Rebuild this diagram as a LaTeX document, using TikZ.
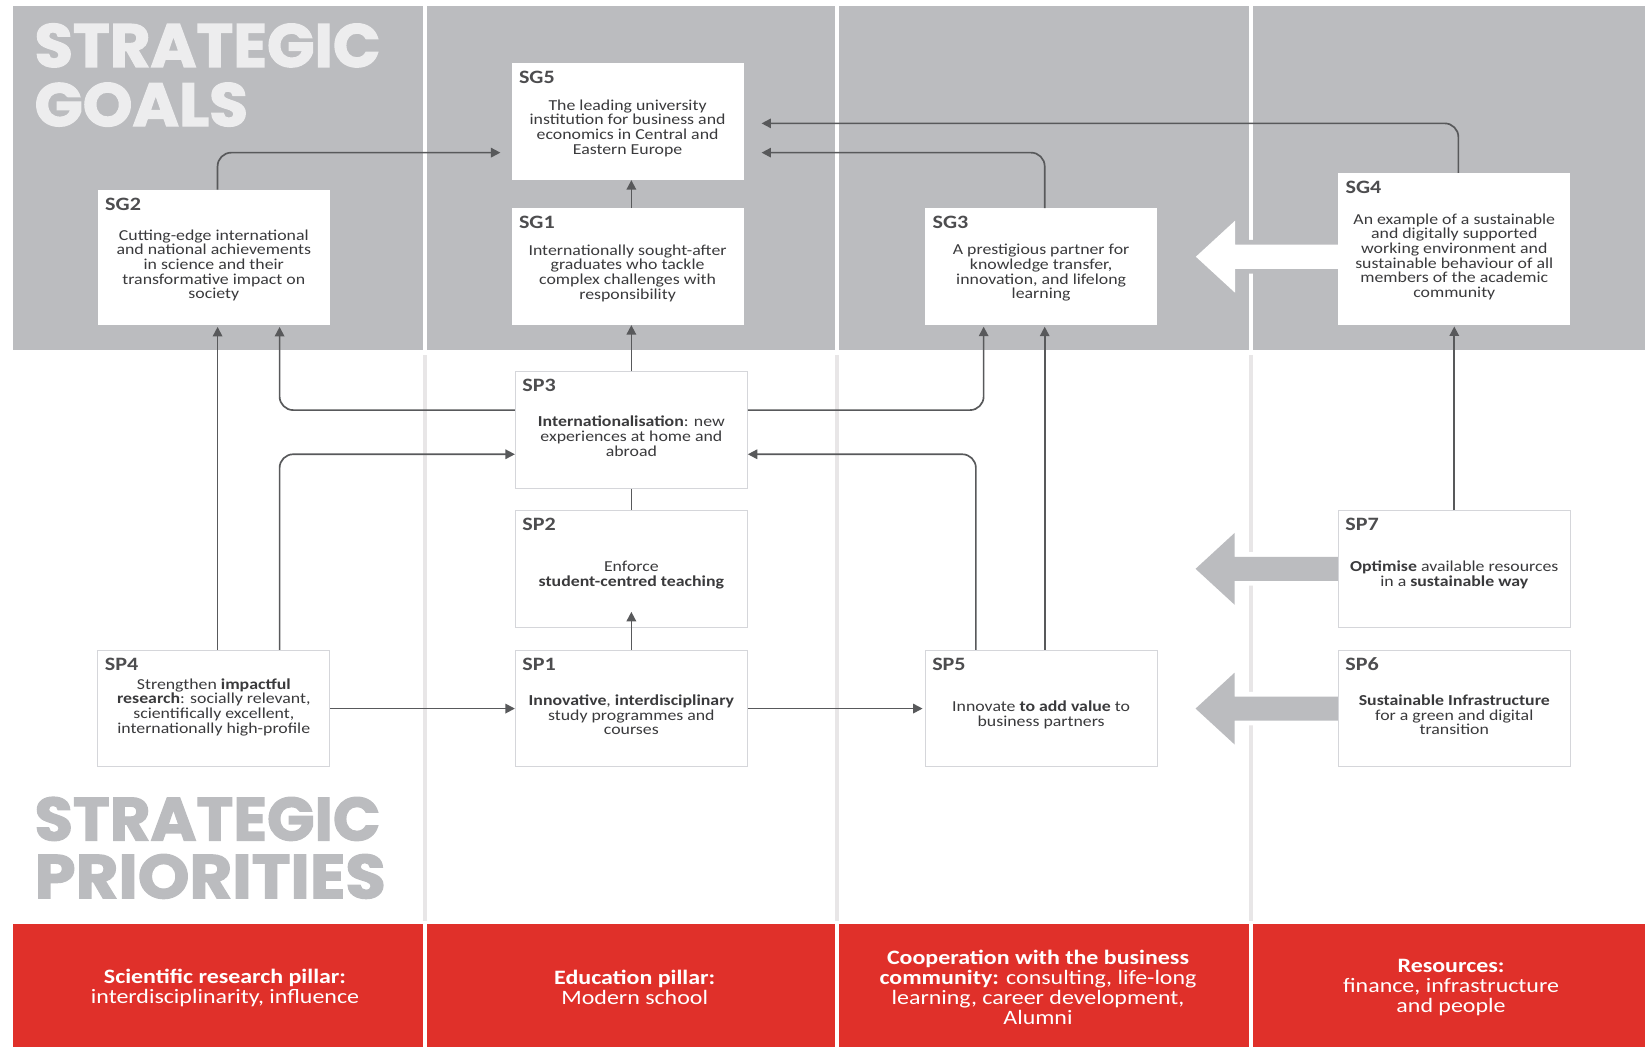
\documentclass[tikz,border=0pt]{standalone}
\usepackage{fontspec}
\setmainfont{Carlito}[FakeStretch=1.17]
\newfontfamily\titlefont{Poppins}[BoldFeatures={FakeBold=2}]
\usetikzlibrary{arrows.meta,calc}
\pgfdeclarelayer{bg}
\pgfsetlayers{bg,main}
\definecolor{bandgray}{HTML}{BBBCBF}
\definecolor{sepgray}{HTML}{E8E6E7}
\definecolor{redband}{HTML}{E0302A}
\definecolor{linegray}{HTML}{58595B}
\definecolor{txt}{HTML}{3A3A3C}
\definecolor{labgray}{HTML}{4D4D4F}
\definecolor{boxedge}{HTML}{D5D6DA}
\definecolor{titlelight}{HTML}{EDEDEE}
\begin{document}
\begin{tikzpicture}[x=1pt,y=-1pt,
  sgbox/.style={fill=white,draw=none,minimum width=221pt,minimum height=111pt,inner sep=0pt},
  spbox/.style={fill=white,draw=boxedge,line width=1pt,minimum width=221pt,minimum height=111pt,inner sep=0pt},
  lab/.style={font=\fontsize{18}{18}\selectfont\bfseries,text=labgray,anchor=north west,inner sep=0pt},
  bodytext/.style={font=\fontsize{14.5}{14}\selectfont,text=txt,align=center,inner sep=0pt},
  redtext/.style={font=\fontsize{19.5}{19}\selectfont,text=white,align=center,inner sep=0pt},
  conn/.style={draw=linegray,line width=1.6pt,rounded corners=13pt},
  arr/.style={conn,-{Triangle[length=9pt,width=9pt]}},
  bigarrow/.style={fill=bandgray,preaction={draw=white,line width=9pt}},
  whitearrow/.style={fill=white,preaction={draw=bandgray,line width=9pt}}
]
\useasboundingbox (0,0) rectangle (1568,998);

% ---------- boxes ----------
\node[sgbox] (sg5) at (598.2,116) {};
\node[sgbox,minimum height=129pt] (sg2) at (203.8,245.4) {};
\node[sgbox] (sg1) at (598.2,254.2) {};
\node[sgbox] (sg3) at (992.4,254.2) {};
\node[sgbox,minimum height=144.4pt] (sg4) at (1386.2,237.3) {};
\node[spbox] (sp3) at (601.8,409.9) {};
\node[spbox] (sp2) at (601.8,542.2) {};
\node[spbox] (sp1) at (601.8,675.4) {};
\node[spbox] (sp4) at (203.8,675.4) {};
\node[spbox] (sp5) at (992.4,675.4) {};
\node[spbox] (sp7) at (1386.2,542.2) {};
\node[spbox] (sp6) at (1386.2,675.4) {};

% ---------- labels ----------
\foreach \n/\t in {sg5/SG5,sg2/SG2,sg1/SG1,sg3/SG3,sg4/SG4,sp3/SP3,sp2/SP2,sp1/SP1,sp4/SP4,sp5/SP5,sp7/SP7,sp6/SP6}
  \node[lab] (\n-lab) at ([xshift=7pt,yshift=-7.5pt]\n.north west) {\t};

% ---------- texts ----------
\node[bodytext] (sg5-txt) at ([yshift=-6pt]sg5.center) {The leading university\\institution for business and\\economics in Central and\\Eastern Europe};
\node[bodytext] (sg2-txt) at ([yshift=-7.5pt]sg2.center) {Cutting-edge international\\and national achievements\\in science and their\\transformative impact on\\society};
\node[bodytext] (sg1-txt) at ([yshift=-6pt]sg1.center) {Internationally sought-after\\graduates who tackle\\complex challenges with\\responsibility};
\node[bodytext] (sg3-txt) at ([yshift=-6pt]sg3.center) {A prestigious partner for\\knowledge transfer,\\innovation, and lifelong\\learning};
\node[bodytext] (sg4-txt) at ([yshift=-7.5pt]sg4.center) {An example of a sustainable\\and digitally supported\\working environment and\\sustainable behaviour of all\\members of the academic\\community};
\node[bodytext] (sp3-txt) at ([yshift=-6pt]sp3.center) {\textbf{Internationalisation}: new\\experiences at home and\\abroad};
\node[bodytext] (sp2-txt) at ([yshift=-6pt]sp2.center) {Enforce\\\textbf{student-centred teaching}};
\node[bodytext] (sp1-txt) at ([yshift=-6pt]sp1.center) {\textbf{Innovative}, \textbf{interdisciplinary}\\study programmes and\\courses};
\node[bodytext] (sp4-txt) at ([yshift=1.5pt]sp4.center) {Strengthen \textbf{impactful}\\\textbf{research}: socially relevant,\\scientifically excellent,\\internationally high-profile};
\node[bodytext] (sp5-txt) at ([yshift=-6pt]sp5.center) {Innovate \textbf{to add value} to\\business partners};
\node[bodytext] (sp7-txt) at ([yshift=-6pt]sp7.center) {\textbf{Optimise} available resources\\in a \textbf{sustainable way}};
\node[bodytext] (sp6-txt) at ([yshift=-6pt]sp6.center) {\textbf{Sustainable Infrastructure}\\for a green and digital\\transition};

% ---------- background layer ----------
\begin{pgfonlayer}{bg}
  \fill[bandgray] (12.6,5.7) rectangle (402.9,333.7);
  \fill[bandgray] (406.8,5.7) rectangle (796.1,333.7);
  \fill[bandgray] (800.1,5.7) rectangle (1190.3,333.7);
  \fill[bandgray] (1194.3,5.7) rectangle (1568,333.7);
  \fill[redband] (12.6,880.8) rectangle (402.9,998);
  \fill[redband] (406.8,880.8) rectangle (796.1,998);
  \fill[redband] (800.1,880.8) rectangle (1190.3,998);
  \fill[redband] (1194.3,880.8) rectangle (1568,998);
  \foreach \x in {404.9,798.1,1192.3}
    \draw[sepgray,line width=3.6pt] (\x,338.5) -- (\x,878);
  % big arrows
  \fill[whitearrow] ([yshift=-7.4pt]sg4.west) ++(5,-11.5) -- ++(-103.3,0) -- ++(0,-22.8) -- ++(-37.3,34.3) -- ++(37.3,34.3) -- ++(0,-22.8) -- ++(103.3,0) -- cycle;
  \fill[bigarrow] (sp7.west) ++(5,-11.5) -- ++(-103.3,0) -- ++(0,-22.8) -- ++(-37.3,34.3) -- ++(37.3,34.3) -- ++(0,-22.8) -- ++(103.3,0) -- cycle;
  \fill[bigarrow] (sp6.west) ++(5,-11.5) -- ++(-103.3,0) -- ++(0,-22.8) -- ++(-37.3,34.3) -- ++(37.3,34.3) -- ++(0,-22.8) -- ++(103.3,0) -- cycle;
\end{pgfonlayer}

% ---------- titles ----------
\node[anchor=north west,inner sep=0pt,text=titlelight] (t1) at (32.8,22.2) {\resizebox{329.5pt}{41.4pt}{\titlefont\bfseries STRATEGIC}};
\node[anchor=north west,inner sep=0pt,text=titlelight] (t2) at (32.8,78.6) {\resizebox{203.4pt}{41.4pt}{\titlefont\bfseries GOALS}};
\node[anchor=north west,inner sep=0pt,text=bandgray] (t3) at (32.8,759.5) {\resizebox{329.5pt}{41.4pt}{\titlefont\bfseries STRATEGIC}};
\node[anchor=north west,inner sep=0pt,text=bandgray] (t4) at (32.8,814) {\resizebox{334.6pt}{42pt}{\titlefont\bfseries PRIORITIES}};

% ---------- pillar texts ----------
\node[redtext] (p1) at (214.5,941.5) {\textbf{Scientific research pillar:}\\interdisciplinarity, influence};
\node[redtext] (p2) at (605,941.5) {\textbf{Education pillar:}\\Modern school};
\node[redtext] (p3) at (989.4,941.5) {\textbf{Cooperation with the business}\\\textbf{community:} consulting, life-long\\learning, career development,\\Alumni};
\node[redtext] (p4) at (1383.1,941.5) {\textbf{Resources:}\\finance, infrastructure\\and people};

% ---------- connectors ----------
\draw[arr] ([xshift=3.6pt]sg2.north) |- ([xshift=-10.5pt,yshift=-29.5pt]sg5.west);
\draw[arr] ([xshift=3.4pt]sg3.north) |- ([xshift=17pt,yshift=-29.5pt]sg5.east);
\draw[arr] ([xshift=3.9pt]sg4.north) |- ([xshift=17pt,yshift=-1.6pt]sg5.east);
\draw[arr] (sg1.north -| sp3.north) -- (sg5.south -| sp3.north);
\draw[arr] (sp3.north) -- (sp3.north |- sg1.south);
\draw[conn] (sp3.south) -- (sp2.north);
\draw[arr] (sp1.north) -- ([yshift=15pt]sp2.south);
\draw[arr] ([xshift=3.6pt]sp4.north) -- ([xshift=3.6pt,yshift=-1.5pt]sg2.south);
\draw[arr] ([xshift=62.7pt]sp4.north) |- ([yshift=-23.1pt]sp3.west);
\draw[arr] ([yshift=19pt]sp3.west) -| ([xshift=62.7pt,yshift=-1.5pt]sg2.south);
\draw[arr] ([yshift=19pt]sp3.east) -| ([xshift=-54.8pt,yshift=-1.5pt]sg3.south);
\draw[arr] ([xshift=-62.2pt]sp5.north) |- ([yshift=-23.1pt]sp3.east);
\draw[arr] ([xshift=3.4pt]sp5.north) -- ([xshift=3.4pt,yshift=-1.5pt]sg3.south);
\draw[arr] (sp4.east) -- (sp1.west);
\draw[arr] (sp1.east) -- ([xshift=-2pt]sp5.west);
\draw[arr] (sp7.north) -- ([yshift=-1.5pt]sp7.north |- sg4.south);
\end{tikzpicture}
\end{document}
